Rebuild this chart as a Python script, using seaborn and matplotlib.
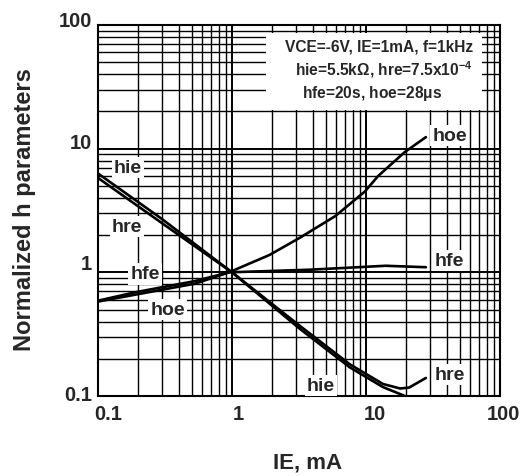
import numpy as np
import pandas as pd
import seaborn as sns
import matplotlib.pyplot as plt
import matplotlib.transforms as mtransforms
from matplotlib.patches import Rectangle

# Curve values (IE in mA, normalized to IE=1mA)
hie_x = [0.1, 0.3, 1.0, 3.2, 7.6, 13.4, 19.5]
hie_y = [5.8, 2.5, 1.0, 0.35, 0.17, 0.118, 0.1]

hre_x = [0.1, 0.3, 1.0, 3.2, 7.6, 13.4, 18.0, 21.0, 28.0]
hre_y = [6.3, 2.7, 1.0, 0.37, 0.18, 0.125, 0.115, 0.117, 0.14]

hfe_x = [0.1, 0.19, 0.53, 0.95, 3.8, 14.0, 28.0]
hfe_y = [0.59, 0.69, 0.85, 1.0, 1.05, 1.13, 1.10]

hoe_x = [0.1, 0.19, 0.53, 0.95, 1.9, 3.2, 5.9, 9.8, 12.3, 19.5, 28.0]
hoe_y = [0.58, 0.66, 0.81, 1.0, 1.38, 1.9, 2.85, 4.5, 6.0, 9.4, 12.4]

x_ticks = [0.1, 1, 10, 100]
x_ticklabels = ["0.1", "1", "10", "100"]
y_ticks = [0.1, 1, 10, 100]
y_ticklabels = ["0.1", "1", "10", "100"]

frames = []
for name, xs, ys in [("hie", hie_x, hie_y), ("hre", hre_x, hre_y),
                     ("hfe", hfe_x, hfe_y), ("hoe", hoe_x, hoe_y)]:
    frames.append(pd.DataFrame({"IE": xs, "value": ys, "param": name}))
df = pd.concat(frames, ignore_index=True)

sns.set_theme(style="white")
plt.rcParams['font.family'] = ['Liberation Sans', 'DejaVu Sans']
plt.rcParams['font.weight'] = 'bold'
plt.rcParams['mathtext.fontset'] = 'custom'
plt.rcParams['mathtext.rm'] = 'Liberation Sans:bold'
plt.rcParams['mathtext.bf'] = 'Liberation Sans:bold'
plt.rcParams['mathtext.it'] = 'Liberation Sans:bold:italic'
plt.rcParams['mathtext.default'] = 'bf'

fig = plt.figure(figsize=(5.30, 4.77), dpi=100)
ax = fig.add_axes([98/530, 80/477, 402/530, 371/477])

sns.lineplot(data=df, x="IE", y="value", units="param", estimator=None,
             color="black", linewidth=1.9, sort=False, ax=ax, zorder=3)

ax.set_xscale("log")
ax.set_yscale("log")
ax.set_xlim(0.1, 100)
ax.set_ylim(0.1, 100)

ax.set_axisbelow(True)
ax.grid(True, which="major", color="black", linewidth=1.4)
ax.grid(True, which="minor", color="black", linewidth=1.0)
for spine in ax.spines.values():
    spine.set_edgecolor("black")
    spine.set_linewidth(1.5)

ax.set_xticks(x_ticks)
ax.set_xticklabels(x_ticklabels)
ax.set_yticks(y_ticks)
ax.set_yticklabels(y_ticklabels)
ax.tick_params(axis="x", which="both", length=0, labelsize=14.5, pad=6)
ax.tick_params(axis="y", which="both", length=0, labelsize=14.5, pad=4.5)

# the scanned labels sit a little right (x) / a little high (y) of their lines
x_shift = [10, 6, 9, 3]
y_shift = [3.5, 11, 8, 7]
for tick, dx in zip(ax.xaxis.get_major_ticks(), x_shift):
    tick.label1.set_transform(tick.label1.get_transform() +
                              mtransforms.ScaledTranslation(dx/100, 0, fig.dpi_scale_trans))
for tick, dy in zip(ax.yaxis.get_major_ticks(), y_shift):
    tick.label1.set_transform(tick.label1.get_transform() +
                              mtransforms.ScaledTranslation(0, dy/100, fig.dpi_scale_trans))
for lbl in ax.get_xticklabels() + ax.get_yticklabels():
    lbl.set_fontweight("bold")

ax.set_xlabel("IE, mA", fontsize=16, fontweight="bold")
ax.set_ylabel("Normalized h parameters", fontsize=17, fontweight="bold")
ax.xaxis.set_label_coords(0.522, -0.150)
ax.yaxis.set_label_coords(-0.155, 0.504)

# condition box (white, hides the grid)
ax.add_patch(Rectangle((0.418, 0.771), 0.537, 0.207, transform=ax.transAxes,
                       facecolor="white", edgecolor="none", zorder=2))
ax.text(0.933, 0.943, "VCE=-6V, IE=1mA, f=1kHz", transform=ax.transAxes,
        ha="right", va="center", fontsize=11.2, fontweight="bold", zorder=4)
ax.text(0.933, 0.881, r"hie=5.5k$\Omega$, hre=7.5x10$^{-4}$", transform=ax.transAxes,
        ha="right", va="center", fontsize=11.2, fontweight="bold", zorder=4)
ax.text(0.682, 0.819, r"hfe=20s, hoe=28$\mu$s", transform=ax.transAxes,
        ha="center", va="center", fontsize=11.2, fontweight="bold", zorder=4)

# curve labels
box = dict(facecolor="white", edgecolor="none", pad=1.5)
labels = [("hie", 0.167, 7.0), ("hre", 0.165, 2.35), ("hfe", 0.225, 0.97),
          ("hoe", 0.33, 0.5), ("hoe", 42, 12.8), ("hfe", 42, 1.25),
          ("hre", 42, 0.15), ("hie", 4.6, 0.122)]
for txt, lx, ly in labels:
    ax.text(lx, ly, txt, ha="center", va="center", fontsize=14,
            fontweight="bold", bbox=box, zorder=4)

fig.savefig("out.png", dpi=100, facecolor="white")
